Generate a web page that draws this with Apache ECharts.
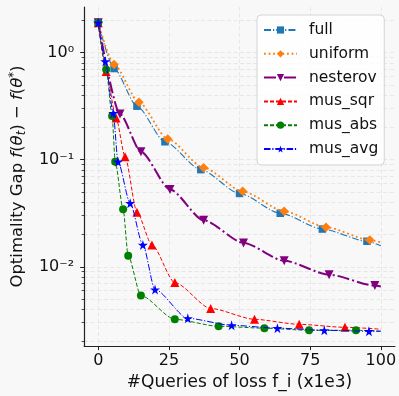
<!DOCTYPE html>
<html>
<head>
<meta charset="utf-8">
<script src="https://cdn.jsdelivr.net/npm/echarts@6/dist/echarts.min.js"></script>
<style>
html,body{margin:0;padding:0;background:#f8f8f8;}
#c{width:399px;height:396px;}
</style>
</head>
<body>
<div id="c"></div>
<script>
// ---- data (x: #queries x1e3, y: optimality gap) ----
const seriesNames = ['full', 'uniform', 'nesterov', 'mus_sqr', 'mus_abs', 'mus_avg'];
const fullX = [0, 5.6, 13.7, 23.6, 36.3, 50.0, 64.4, 79.3, 95.1, 100];
const fullY = [1.9, 0.71, 0.316, 0.147, 0.0807, 0.0484, 0.0316, 0.0225, 0.0173, 0.0157];
const uniformX = [0, 5.6, 14.4, 24.6, 37.3, 51.1, 65.8, 80.6, 96.1, 100];
const uniformY = [1.9, 0.774, 0.344, 0.156, 0.0843, 0.0506, 0.033, 0.0234, 0.0178, 0.0169];
const nesterovX = [0, 7.7, 15.1, 25.4, 37.3, 51.4, 65.8, 81.7, 97.9, 100];
const nesterovY = [1.9, 0.267, 0.1186, 0.0527, 0.0272, 0.0167, 0.01137, 0.00844, 0.00667, 0.00653];
const musSqrX = [0, 2.8, 6.3, 9.5, 13.7, 19.0, 27.1, 39.8, 55.3, 71.1, 87.3, 100];
const musSqrY = [1.9, 0.667, 0.245, 0.1066, 0.0323, 0.016, 0.00711, 0.00408, 0.00323, 0.0029, 0.00272, 0.00261];
const musAbsX = [0, 2.8, 4.9, 6.0, 8.8, 10.6, 15.1, 27.1, 42.6, 58.8, 74.6, 91.2, 100];
const musAbsY = [1.9, 0.696, 0.256, 0.0957, 0.0344, 0.01264, 0.00538, 0.00323, 0.00278, 0.00267, 0.00255, 0.00255, 0.0025];
const musAvgX = [0, 2.5, 5.3, 7.0, 11.3, 15.8, 20.1, 31.7, 47.2, 63.4, 80.0, 95.8, 100];
const musAvgY = [1.9, 0.826, 0.272, 0.0957, 0.0392, 0.016, 0.00612, 0.0033, 0.00284, 0.00267, 0.00255, 0.0025, 0.0025];
const xTicks = [0, 25, 50, 75, 100];
const yMajorTicks = [0.01, 0.1, 1];

// ---- styling ----
const STAR = 'path://M50,0 L61,35 L98,35 L68,57 L79,91 L50,70 L21,91 L32,57 L2,35 L39,35 Z';
const styles = [
  {color:'#1f77b4', width:1.1, dash:[7,2,1.2,2], symbol:'rect', size:7.5, rot:0},
  {color:'#ff7f0e', width:1.8, dash:[1.8,2.8], symbol:'diamond', size:9.5, rot:0},
  {color:'#800080', width:2, dash:[12,3,2,3], symbol:'triangle', size:9, rot:180},
  {color:'#ff0000', width:1, dash:[4,2], symbol:'triangle', size:9, rot:0},
  {color:'#008000', width:1, dash:[4,2], symbol:'circle', size:8, rot:0},
  {color:'#0000ff', width:1, dash:[6.5,1.8,1.2,1.8], symbol:STAR, size:10, rot:0}
];
const xs = [fullX, uniformX, nesterovX, musSqrX, musAbsX, musAvgX];
const ys = [fullY, uniformY, nesterovY, musSqrY, musAbsY, musAvgY];

const L = Math.log10;
const yMin = -2.741, yMax = 0.426;
const minorTicks = [];
for (let e = -3; e <= 0; e++) {
  for (let k = 2; k <= 9; k++) {
    const v = L(k) + e;
    if (v > yMin && v < yMax) minorTicks.push(v);
  }
}
const sup = {'0':'⁰','1':'¹','2':'²','3':'³','-':'⁻'};
function fmtPow(v) {
  const e = String(Math.round(v));
  return '10' + e.split('').map(c => sup[c]).join('');
}

const gridLine = {show:true, lineStyle:{color:'#e2e2e2', width:0.8, type:[4,2.5]}};
const FONT = 'DejaVu Sans';

const series = seriesNames.map((name, i) => {
  const s = styles[i];
  const n = xs[i].length;
  return {
    name, type:'line', xAxisIndex:0, yAxisIndex:0,
    smooth:0.25, smoothMonotone:'x',
    symbol:s.symbol, symbolSize:s.size, symbolRotate:s.rot,
    lineStyle:{color:s.color, width:s.width, type:s.dash},
    itemStyle:{color:s.color},
    z: 10 + i,
    data: xs[i].map((x, j) => {
      const d = {value:[x, L(ys[i][j])]};
      if (j === n - 1) d.symbol = 'none';
      return d;
    }),
    animation:false
  };
});

const chart = echarts.init(document.getElementById('c'), null, {renderer:'canvas'});
chart.setOption({
  backgroundColor:'#f8f8f8',
  animation:false,
  textStyle:{fontFamily:FONT},
  grid:{left:82, right:4, top:7, bottom:47, containLabel:false},
  legend:{
    left:257, top:15, orient:'vertical',
    padding:[6, 6, 7, 6],
    itemWidth:33, itemHeight:9, itemGap:5.8,
    backgroundColor:'rgba(255,255,255,0.8)',
    borderColor:'#d4d4d4', borderWidth:1, borderRadius:4,
    textStyle:{fontFamily:FONT, fontSize:15.5, color:'#111', padding:[0,0,0,7], lineHeight:18},
    data:seriesNames
  },
  xAxis:{
    type:'value', min:-5, max:105,
    axisLine:{show:true, onZero:false, lineStyle:{color:'#222', width:1.2}},
    axisTick:{show:true, length:4, inside:false, customValues:xTicks, lineStyle:{color:'#222'}},
    axisLabel:{customValues:xTicks, color:'#111', fontSize:16, fontFamily:FONT, margin:7},
    splitLine:gridLine,
    name:'#Queries of loss f_i (x1e3)', nameLocation:'middle', nameGap:27,
    nameTextStyle:{fontSize:17, color:'#111', fontFamily:FONT}
  },
  yAxis:[{
    type:'value', min:yMin, max:yMax,
    axisLine:{show:true, onZero:false, lineStyle:{color:'#222', width:1.2}},
    axisTick:{show:true, length:4, customValues:yMajorTicks.map(L), lineStyle:{color:'#222'}},
    axisLabel:{customValues:yMajorTicks.map(L), formatter:fmtPow, color:'#111', fontSize:16, fontFamily:FONT, margin:10},
    splitLine:gridLine,
    name:'{n|Optimality Gap }{i|f}{n|(}{i|θ}{sub|t}{n|) − }{i|f}{n|(}{i|θ}{sup|*}{n|)}',
    nameLocation:'middle', nameGap:56,
    nameTextStyle:{
      fontFamily:FONT, fontSize:16.5, color:'#111',
      rich:{
        n:{fontSize:16.5, fontFamily:FONT, color:'#111', lineHeight:20},
        i:{fontSize:16.5, fontFamily:FONT, fontStyle:'italic', color:'#111', lineHeight:20},
        sub:{fontSize:11.5, fontFamily:FONT, fontStyle:'italic', color:'#111', lineHeight:12, verticalAlign:'bottom'},
        sup:{fontSize:11.5, fontFamily:FONT, color:'#111', lineHeight:12, verticalAlign:'top'}
      }
    }
  }, {
    type:'value', min:yMin, max:yMax, position:'left',
    axisLine:{show:false, onZero:false},
    axisTick:{show:true, length:2.5, customValues:minorTicks, lineStyle:{color:'#222', width:0.8}},
    axisLabel:{show:false},
    splitLine:gridLine
  }],
  series
});
</script>
</body>
</html>
